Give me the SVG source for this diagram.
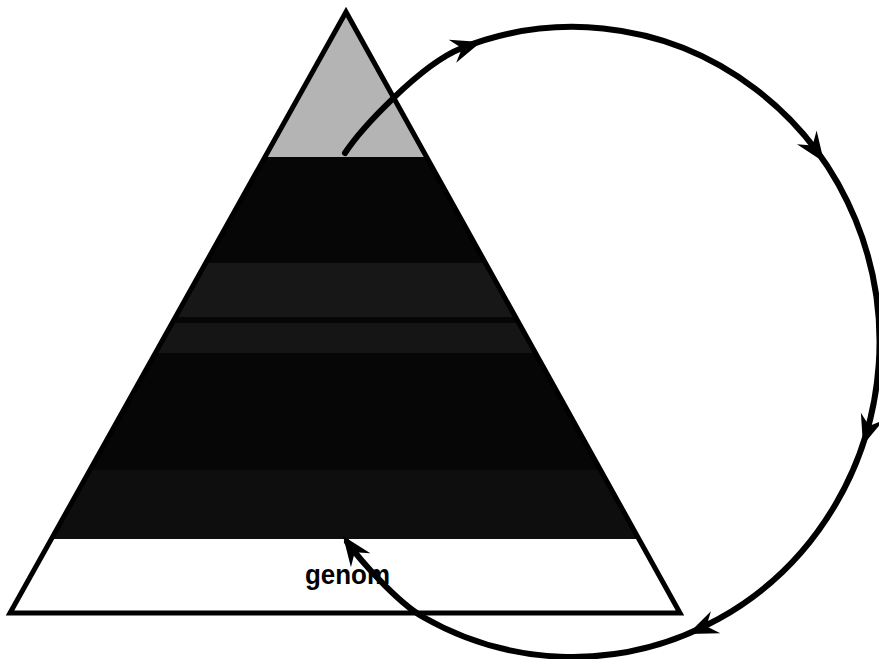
<svg xmlns="http://www.w3.org/2000/svg" width="879" height="659" viewBox="0 0 879 659">
<defs>
<style>
.edge{fill:none;stroke:#000;stroke-width:6;stroke-linecap:round}
.ah{fill:#000}
.lbl{font-family:"Liberation Sans",Arial,sans-serif;font-size:28px;font-weight:bold;fill:#000}
</style>
<clipPath id="tri"><polygon points="346,12 10,613 680,613"/></clipPath>
<path id="arrow" d="M0,0 L-30,-12 L-20,0 L-30,12 Z"/>
</defs>
<rect width="879" height="659" fill="#fff"/>
<g id="pyramid">
<g clip-path="url(#tri)">
<rect x="0" y="0" width="879" height="157" fill="#b4b4b4"/>
<rect x="0" y="157" width="879" height="382" fill="#060606"/>
<rect x="0" y="263" width="879" height="54" fill="#171717"/>
<rect x="0" y="323" width="879" height="30" fill="#151515"/>
<rect x="0" y="470" width="879" height="69" fill="#0e0e0e"/>
<rect x="0" y="539" width="879" height="80" fill="#fff"/>
</g>
<polygon points="346,12 10,613 680,613" fill="none" stroke="#000" stroke-width="5" stroke-linejoin="miter"/>
</g>
<g id="genom">
<text class="lbl" x="305" y="584" textLength="85" lengthAdjust="spacingAndGlyphs">genom</text>
</g>
<g id="connectors">
<path class="edge" d="M345,153 C360,130 420,64.5 462,48 A307,315 0 1 1 423,617 C397,602 360,560 347,542"/>
<use href="#arrow" class="ah" transform="translate(481,42) rotate(-18)"/>
<use href="#arrow" class="ah" transform="translate(824,162) rotate(55)"/>
<use href="#arrow" class="ah" transform="translate(863,445) rotate(108)"/>
<use href="#arrow" class="ah" transform="translate(688,634) rotate(157)"/>
<use href="#arrow" class="ah" transform="translate(343,536) rotate(-126)"/>
</g>
</svg>
